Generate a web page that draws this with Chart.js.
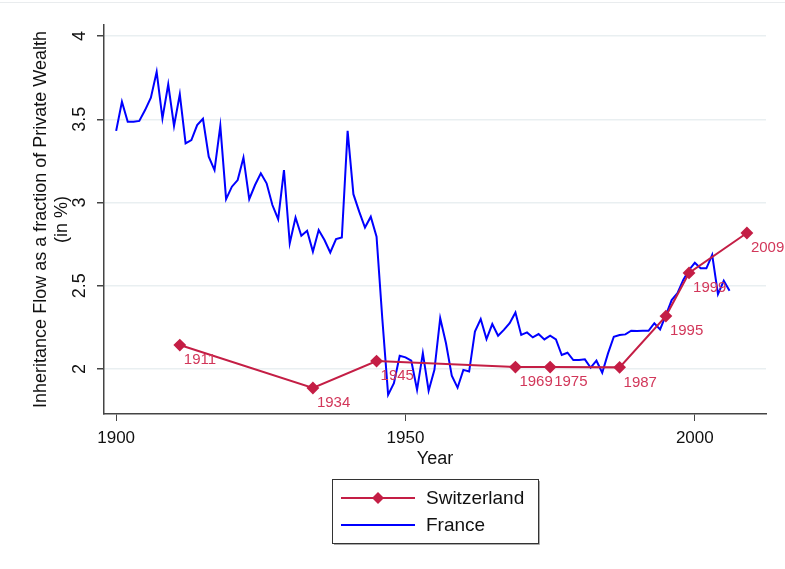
<!DOCTYPE html>
<html><head><meta charset="utf-8">
<script src="https://cdn.jsdelivr.net/npm/chart.js@4/dist/chart.umd.min.js"></script>
<style>
html,body{margin:0;padding:0;background:#fff;}
#wrap{width:785px;height:569px;position:relative;}
#topline{position:absolute;left:0;top:2px;width:785px;height:1px;background:#e9ecee;}
</style>
</head><body>
<div id="wrap"><div id="topline"></div><canvas id="c" width="785" height="569"></canvas></div>
<script>
const franceYears = [1900,1901,1902,1903,1904,1905,1906,1907,1908,1909,1910,1911,1912,1913,1914,1915,1916,1917,1918,1919,
1920,1921,1922,1923,1924,1925,1926,1927,1928,1929,1930,1931,1932,1933,1934,1935,1936,1937,1938,1939,
1940,1941,1942,1943,1944,1945,1946,1947,1948,1949,1950,1951,1952,1953,1954,1955,1956,1957,1958,1959,
1960,1961,1962,1963,1964,1965,1966,1967,1968,1969,1970,1971,1972,1973,1974,1975,1976,1977,1978,1979,
1980,1981,1982,1983,1984,1985,1986,1987,1988,1989,1990,1991,1992,1993,1994,1995,1996,1997,1998,1999,
2000,2001,2002,2003,2004,2005,2006];
const franceValues = [3.43,3.605,3.485,3.485,3.49,3.555,3.63,3.785,3.505,3.71,3.46,3.65,3.355,3.375,3.465,3.503,3.275,3.195,3.46,3.02,
3.095,3.135,3.27,3.02,3.105,3.175,3.115,2.985,2.90,3.195,2.755,2.91,2.80,2.83,2.705,2.835,2.775,2.70,2.78,2.79,
3.43,3.05,2.945,2.85,2.915,2.795,2.30,1.845,1.915,2.08,2.07,2.05,1.875,2.095,1.87,1.995,2.305,2.155,1.96,1.888,
1.995,1.985,2.225,2.30,2.18,2.27,2.20,2.235,2.275,2.34,2.205,2.22,2.19,2.21,2.178,2.20,2.178,2.084,2.098,2.054,
2.054,2.058,2.008,2.05,1.978,2.094,2.194,2.204,2.208,2.23,2.228,2.23,2.23,2.275,2.238,2.324,2.414,2.455,2.535,2.595,
2.638,2.605,2.605,2.685,2.45,2.53,2.47];
const switzerlandYears = [1911,1934,1945,1969,1975,1987,1995,1999,2009];
const switzerlandValues = [2.144,1.886,2.048,2.012,2.012,2.01,2.318,2.577,2.817];
const xTickValues = [1900,1950,2000];
const yTickValues = [2,2.5,3,3.5,4];

const swissColor = '#c41e45';
const swissLabelColor = '#d2375a';
const franceColor = '#0000ff';
const FONT = '"Liberation Sans", Arial, sans-serif';

const labelPlugin = {
  id: 'yearLabels',
  afterDatasetsDraw(chart) {
    const ctx = chart.ctx;
    const meta = chart.getDatasetMeta(0);
    ctx.save();
    ctx.font = '15px ' + FONT;
    ctx.fillStyle = swissLabelColor;
    ctx.textAlign = 'left';
    ctx.textBaseline = 'middle';
    meta.data.forEach((pt, i) => {
      ctx.fillText(String(switzerlandYears[i]), pt.x + 4, pt.y + 15);
    });
    ctx.restore();
  }
};

const legendPlugin = {
  id: 'boxLegend',
  afterDraw(chart) {
    const ctx = chart.ctx;
    const x0 = 332, y0 = 479, w = 206, h = 64;
    ctx.save();
    ctx.fillStyle = '#fff';
    ctx.fillRect(x0, y0, w, h);
    ctx.strokeStyle = '#333';
    ctx.lineWidth = 1;
    ctx.strokeRect(x0 + 0.5, y0 + 0.5, w, h);
    ctx.strokeStyle = '#aaa';
    ctx.beginPath();
    ctx.moveTo(x0 + w + 1.5, y0 + 2); ctx.lineTo(x0 + w + 1.5, y0 + h + 1.5); ctx.lineTo(x0 + 2, y0 + h + 1.5);
    ctx.stroke();
    const items = [chart.data.datasets[0], chart.data.datasets[1]];
    items.forEach((ds, i) => {
      const cy = y0 + 19 + i * 27;
      ctx.strokeStyle = ds.borderColor;
      ctx.lineWidth = 2;
      ctx.beginPath();
      ctx.moveTo(341, cy); ctx.lineTo(415, cy);
      ctx.stroke();
      if (ds.pointRadius > 0) {
        ctx.fillStyle = ds.pointBackgroundColor;
        ctx.beginPath();
        const r = 6;
        ctx.moveTo(378, cy - r); ctx.lineTo(378 + r, cy); ctx.lineTo(378, cy + r); ctx.lineTo(378 - r, cy);
        ctx.closePath(); ctx.fill();
      }
      ctx.fillStyle = '#111';
      ctx.font = '19px ' + FONT;
      ctx.textAlign = 'left';
      ctx.textBaseline = 'middle';
      ctx.fillText(ds.label, 426, cy + 1);
    });
    ctx.restore();
  }
};

new Chart(document.getElementById('c'), {
  type: 'line',
  data: {
    datasets: [
      {
        label: 'Switzerland',
        data: switzerlandYears.map((y, i) => ({x: y, y: switzerlandValues[i]})),
        borderColor: swissColor,
        backgroundColor: swissColor,
        pointBackgroundColor: swissColor,
        pointBorderColor: swissColor,
        pointStyle: 'rectRot',
        pointRadius: 5,
        borderWidth: 2,
        tension: 0
      },
      {
        label: 'France',
        data: franceYears.map((y, i) => ({x: y, y: franceValues[i]})),
        borderColor: franceColor,
        backgroundColor: franceColor,
        pointRadius: 0,
        borderWidth: 2,
        tension: 0
      }
    ]
  },
  options: {
    responsive: false,
    animation: false,
    layout: {padding: {left: 0, right: 19, top: 25, bottom: 99}},
    plugins: {legend: {display: false}, tooltip: {enabled: false}},
    scales: {
      x: {
        type: 'linear',
        min: 1897.9, max: 2012.3,
        afterBuildTicks: s => { s.ticks = xTickValues.map(v => ({value: v})); },
        afterFit: s => { s.height = 56; },
        grid: {drawOnChartArea: false, color: '#444', tickColor: '#444', tickLength: 7, lineWidth: 1},
        border: {color: '#444', width: 1.5},
        ticks: {font: {family: FONT, size: 17}, color: '#111', padding: 7, maxRotation: 0, callback: v => String(v)},
        title: {display: true, text: 'Year', font: {family: FONT, size: 18}, color: '#111', padding: {top: 0, bottom: 0}}
      },
      y: {
        type: 'linear',
        min: 1.73, max: 4.066,
        afterBuildTicks: s => { s.ticks = yTickValues.map(v => ({value: v})); },
        afterFit: s => { s.width = 104; },
        grid: {color: '#e9eff1', lineWidth: 1.5, tickColor: '#444', tickLength: 7},
        border: {color: '#444', width: 1.5},
        ticks: {font: {family: FONT, size: 18}, color: '#111', padding: 4, minRotation: 90, maxRotation: 90, crossAlign: 'center', callback: v => String(v)},
        title: {display: true, text: ['Inheritance Flow as a fraction of Private Wealth', '(in %)'], font: {family: FONT, size: 18}, color: '#111', padding: {top: 30, bottom: 0}}
      }
    }
  },
  plugins: [labelPlugin, legendPlugin]
});
</script>
</body></html>
